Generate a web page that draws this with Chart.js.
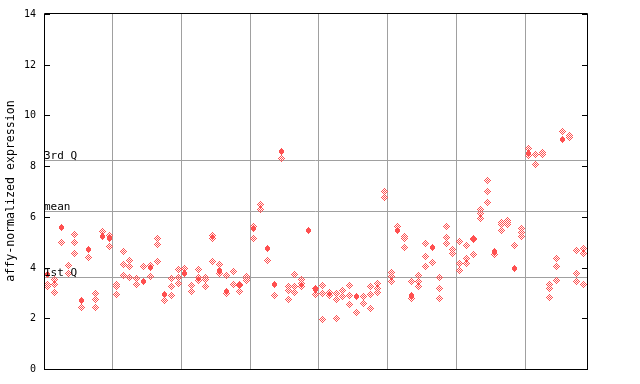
<!DOCTYPE html>
<html><head><meta charset="utf-8">
<script src="https://cdn.jsdelivr.net/npm/chart.js@4"></script>
<style>html,body{margin:0;padding:0;background:#fff}#wrap{width:640px;height:384px}</style>
</head><body><div id="wrap"><canvas id="c" width="640" height="384"></canvas></div>
<script>
const yTickValues = [0, 2, 4, 6, 8, 10, 12, 14];
const yTitle = 'affy-normalized expression';
const quartileLabels = ['3rd Q', 'mean', '1st Q'];
const quartileValues = [8.21, 6.23, 3.62];
const groupBoundaries = [9.5, 19.5, 29.5, 39.5, 49.5, 59.5, 69.5];
// per sample column: replicate values (hollow markers)
const hollowValues = [
  [3.34, 3.25], [3.54, 3.34, 3.03], [5.0], [4.10, 3.77], [5.32, 5.0, 4.56],
  [2.43], [4.40], [2.98, 2.75, 2.43], [5.44], [5.25, 4.84],
  [3.34, 3.25, 2.95], [4.65, 4.13, 3.68], [4.29, 4.05, 3.62], [3.58, 3.34], [4.05],
  [4.09, 3.64], [5.15, 4.92, 4.25], [2.71], [3.58, 3.25, 2.91], [3.93, 3.60, 3.38],
  [3.97], [3.31, 3.04], [3.93, 3.62, 3.48], [3.62, 3.51, 3.25], [5.27, 5.15, 4.25],
  [4.14, 3.77], [3.67, 2.97], [3.85, 3.34], [3.32, 3.28, 3.06], [3.66, 3.58, 3.50],
  [5.62, 5.15], [6.47, 6.30], [4.29], [2.91], [8.31],
  [3.27, 3.08, 2.75], [3.73, 3.27, 3.02], [3.51, 3.38, 3.27], [], [3.19, 2.92],
  [3.30, 2.98, 1.97], [3.01, 2.91], [2.98, 2.75, 2.00], [3.10, 2.87], [3.30, 2.91, 2.55],
  [2.24], [2.87, 2.59], [3.26, 2.95, 2.39], [3.38, 3.18, 3.02], [7.01, 6.77],
  [3.81, 3.64, 3.46], [5.62], [5.22, 5.14, 4.80], [3.46, 2.80], [3.69, 3.46, 3.26],
  [4.96, 4.44, 4.05], [4.21], [3.62, 3.18, 2.79], [5.62, 5.19, 4.96], [4.72, 4.56],
  [5.04, 4.17, 3.89], [4.88, 4.37, 4.15], [5.15, 5.09, 4.52], [6.30, 6.14, 5.94], [7.44, 7.01, 6.57],
  [4.52], [5.78, 5.70, 5.47], [5.86, 5.78, 5.71], [4.88], [5.55, 5.39, 5.23],
  [8.70, 8.41], [8.47, 8.07], [8.52, 8.45], [3.34, 3.18, 2.83], [4.37, 4.05, 3.50],
  [9.37], [9.22, 9.14], [4.68, 3.77, 3.46], [4.76, 4.56, 3.34]
];
// per sample column: highlighted value (filled marker) or null
const filledValues = [
  3.71, null, 5.57, null, null, 2.69, 4.73, null, 5.22, 5.15,
  null, null, null, null, 3.44, 4.01, null, 2.93, null, null,
  3.77, null, null, null, null, 3.90, 3.05, null, null, null,
  5.55, null, 4.74, 3.33, 8.57, null, null, null, 5.45, 3.12,
  null, null, null, null, null, 2.87, null, null, null, null,
  null, 5.48, null, 2.89, null, null, 4.78, null, null, null,
  null, null, null, null, null, 4.62, null, null, 3.96, null,
  8.51, null, null, null, null, 9.07, null, null, null
];

const RED = '#ff5050';
function makeMarker(filled) {
  const c = document.createElement('canvas');
  c.width = 7; c.height = 7;
  const g = c.getContext('2d');
  g.fillStyle = RED;
  for (let dy = -3; dy <= 3; dy++) {
    for (let dx = -3; dx <= 3; dx++) {
      const d = Math.abs(dx) + Math.abs(dy);
      const ady = Math.abs(dy), adx = Math.abs(dx);
      let on;
      if (filled) on = (ady <= 1 && adx <= 2) || (ady === 2 && adx <= 1) || (ady === 3 && adx === 0);
      else on = d === 1 || d === 3;
      if (on) g.fillRect(dx + 3, dy + 3, 1, 1);
    }
  }
  return c;
}
const hollowMarker = makeMarker(false);
const filledMarker = makeMarker(true);

const hollowPts = [];
hollowValues.forEach((vals, i) => vals.forEach(v => hollowPts.push({x: i, y: v})));
const filledPts = [];
filledValues.forEach((v, i) => { if (v !== null) filledPts.push({x: i, y: v}); });

const MONO = '"DejaVu Sans Mono", "Liberation Mono", monospace';

const decor = {
  id: 'decor',
  beforeDraw(chart) { chart.ctx.imageSmoothingEnabled = false; },
  beforeDatasetsDraw(chart) {
    const {ctx, chartArea: a} = chart;
    const y = chart.scales.y;
    ctx.save();
    ctx.strokeStyle = '#a0a0a0';
    ctx.lineWidth = 1;
    quartileValues.forEach(v => {
      const py = Math.floor(y.getPixelForValue(v)) + 0.5;
      ctx.beginPath(); ctx.moveTo(a.left, py); ctx.lineTo(a.right, py); ctx.stroke();
    });
    ctx.restore();
  },
  afterDatasetsDraw(chart) {
    const {ctx, chartArea: a} = chart;
    const y = chart.scales.y;
    ctx.save();
    ctx.fillStyle = '#000';
    ctx.font = '11px ' + MONO;
    ctx.textAlign = 'left';
    ctx.textBaseline = 'alphabetic';
    quartileValues.forEach((v, k) => {
      const py = Math.floor(y.getPixelForValue(v));
      ctx.fillText(quartileLabels[k], a.left, py - 1);
    });
    // frame
    ctx.strokeStyle = '#000';
    ctx.lineWidth = 1;
    ctx.beginPath();
    ctx.moveTo(a.left + 0.5, a.top - 0.5);
    ctx.lineTo(a.right + 0.5, a.top - 0.5);
    ctx.lineTo(a.right + 0.5, a.bottom + 0.5);
    ctx.lineTo(a.left + 0.5, a.bottom + 0.5);
    ctx.closePath();
    ctx.stroke();
    // ticks
    ctx.font = '10px ' + MONO;
    ctx.textAlign = 'right';
    ctx.textBaseline = 'middle';
    yTickValues.forEach(v => {
      const py = Math.round(y.getPixelForValue(v)) + 0.5;
      ctx.beginPath();
      ctx.moveTo(a.left, py); ctx.lineTo(a.left + 6, py);
      ctx.moveTo(a.right + 1, py); ctx.lineTo(a.right - 5, py);
      ctx.stroke();
      ctx.fillText(String(v), a.left - 8, py);
    });
    // y title
    ctx.font = '11.6px ' + MONO;
    ctx.textAlign = 'center';
    ctx.textBaseline = 'middle';
    ctx.translate(11, 191);
    ctx.rotate(-Math.PI / 2);
    ctx.fillText(yTitle, 0, 0);
    ctx.restore();
  }
};

new Chart(document.getElementById('c'), {
  type: 'scatter',
  data: {
    datasets: [
      {data: hollowPts, pointStyle: hollowMarker, pointRadius: 3.5, showLine: false},
      {data: filledPts, pointStyle: filledMarker, pointRadius: 3.5, showLine: false}
    ]
  },
  options: {
    responsive: false,
    animation: false,
    devicePixelRatio: 1,
    layout: {padding: {left: 44, top: 14, right: 53, bottom: 15}},
    plugins: {legend: {display: false}, tooltip: {enabled: false}},
    scales: {
      x: {
        type: 'linear', min: -0.5, max: 78.5,
        afterBuildTicks: s => { s.ticks = groupBoundaries.map(v => ({value: v})); },
        ticks: {display: false},
        grid: {color: '#a0a0a0', lineWidth: 1, drawTicks: false},
        border: {display: false}
      },
      y: {min: 0, max: 14, display: false}
    }
  },
  plugins: [decor]
});
</script></body></html>
